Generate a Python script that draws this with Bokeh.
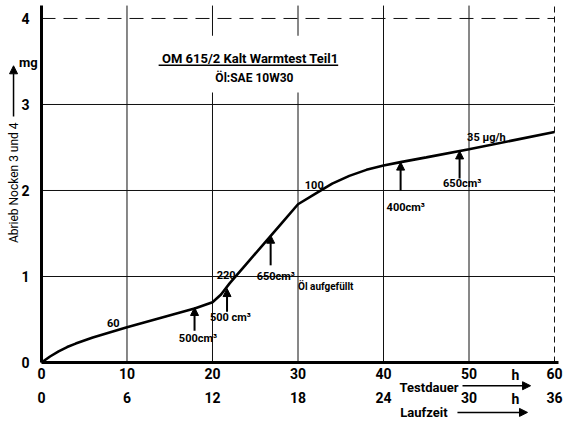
from bokeh.plotting import figure
from bokeh.models import (Range1d, FixedTicker, LinearAxis, Label, Arrow,
                          NormalHead, ColumnDataSource)
from bokeh.embed import file_html
from bokeh.resources import INLINE
import math

# Wear of cams 3 and 4 over test duration (h) -> mg
test_hours = [0, 1, 2, 3, 4, 6, 10, 14, 18, 20, 21, 22, 24, 26, 28, 30, 32, 34,
              36, 38, 40, 42, 45, 50, 55, 60]
wear_mg = [0.0, 0.07, 0.13, 0.18, 0.22, 0.29, 0.41, 0.52, 0.63, 0.70, 0.79, 0.92,
           1.15, 1.38, 1.61, 1.84, 1.96, 2.08, 2.17, 2.24, 2.29, 2.33, 2.385,
           2.48, 2.58, 2.68]

# Axis ticks: test duration (h) and corresponding running time (h)
testdauer_ticks = [0, 10, 20, 30, 40, 50, 60]
laufzeit_labels = [0, 6, 12, 18, 24, 30, 36]
wear_ticks = [0, 1, 2, 3, 4]

# Oil top-ups: hour, arrow start/end (mg), label text, label position
oil_hours = [17.9, 21.7, 26.8, 42.0, 48.9]
oil_from = [0.37, 0.59, 1.13, 2.00, 2.14]
oil_to = [0.64, 0.86, 1.48, 2.33, 2.46]
oil_texts = ["500cm³", "500 cm³", "650cm³", "400cm³", "650cm³"]
oil_label_x = [18.3, 22.1, 27.4, 42.6, 49.2]
oil_label_y = [0.28, 0.52, 1.00, 1.80, 2.08]

# Wear-rate notes along the curve (µg/h)
rate_texts = ["60", "220", "100", "35 µg/h"]
rate_x = [8.4, 21.6, 31.9, 54.3]
rate_y = [0.465, 1.02, 2.06, 2.62]

FONT = "Roboto"
INK = "black"

# The frame fills the whole canvas; axes sit at the origin of the data.
p = figure(width=568, height=423, output_backend="svg", toolbar_location=None,
           x_range=Range1d(-4.795, 61.637), y_range=Range1d(-0.709, 4.209),
           min_border_left=0, min_border_right=0, min_border_top=0,
           min_border_bottom=0, x_axis_type=None, y_axis_type=None)
p.outline_line_color = None
p.background_fill_color = "white"
p.border_fill_color = "white"
p.xgrid.visible = False
p.ygrid.visible = False


def text_label(**kw):
    base = dict(text_font=FONT, text_color=INK, text_font_style="bold",
                text_baseline="middle", text_align="center")
    base.update(kw)
    return Label(**base)


def arrow(x0, y0, x1, y1, width=2, head=8):
    return Arrow(x_start=x0, y_start=y0, x_end=x1, y_end=y1,
                 line_width=width, line_color=INK,
                 end=NormalHead(size=head, fill_color=INK, line_color=INK))


# --- grid lines -----------------------------------------------------------
X_TOP, Y_END = 4.15, 60.0
inner_x = testdauer_ticks[1:-1]
inner_y = wear_ticks[1:-1]
p.segment(x0=inner_x, y0=[0] * len(inner_x), x1=inner_x, y1=[X_TOP] * len(inner_x),
          line_color="#111111", line_width=1)
p.segment(x0=[0] * len(inner_y), y0=inner_y, x1=[Y_END] * len(inner_y), y1=inner_y,
          line_color="#111111", line_width=1)
p.segment(x0=[testdauer_ticks[-1]], y0=[0], x1=[testdauer_ticks[-1]], y1=[X_TOP],
          line_color="#111111", line_width=1, line_dash="6 4")
p.segment(x0=[0], y0=[wear_ticks[-1]], x1=[Y_END], y1=[wear_ticks[-1]],
          line_color="#111111", line_width=1, line_dash="14 8")

# white panel behind the title block
p.quad(left=[13.3], right=[35.6], bottom=[3.14], top=[3.80],
       fill_color="white", line_color=None)

# --- axes -----------------------------------------------------------------
def style_axis(ax, size="14px"):
    ax.major_tick_line_color = None
    ax.minor_tick_line_color = None
    ax.major_label_text_font = FONT
    ax.major_label_text_font_size = size
    ax.major_label_text_font_style = "bold"
    ax.major_label_text_color = INK

xax = LinearAxis(ticker=FixedTicker(ticks=testdauer_ticks), fixed_location=0,
                 bounds=(0, 60.5))
style_axis(xax)
xax.axis_line_width = 3
xax.axis_line_color = INK
xax.major_label_standoff = -1
p.add_layout(xax, "below")

xax2 = LinearAxis(ticker=FixedTicker(ticks=testdauer_ticks), fixed_location=0,
                  bounds=(0, 60.5),
                  major_label_overrides={t: str(l) for t, l in zip(testdauer_ticks, laufzeit_labels)})
style_axis(xax2)
xax2.axis_line_color = None
xax2.major_label_standoff = 23
p.add_layout(xax2, "below")

yax = LinearAxis(ticker=FixedTicker(ticks=wear_ticks), fixed_location=0,
                 bounds=(0, X_TOP))
style_axis(yax)
yax.axis_line_width = 3
yax.axis_line_color = INK
yax.major_label_standoff = 6
p.add_layout(yax, "left")

# --- curve ----------------------------------------------------------------
src = ColumnDataSource(dict(h=test_hours, w=wear_mg))
p.line("h", "w", source=src, line_color=INK, line_width=2.6)

# --- axis titles ----------------------------------------------------------
p.add_layout(text_label(x=-3.27, y=2.09, text="Abrieb Nocken 3 und 4", angle=math.pi / 2,
                        text_font_size="12px", text_font_style="normal"))
p.add_layout(arrow(-3.27, 2.86, -3.27, 3.45, width=1.5, head=8))
p.add_layout(text_label(x=-0.45, y=3.49, text="mg", text_align="right",
                        text_font_size="13px"))

p.add_layout(text_label(x=48.77, y=-0.29, text="Testdauer", text_align="right",
                        text_font_size="13px"))
p.add_layout(arrow(49.24, -0.27, 57.2, -0.27, width=1.5, head=8))
p.add_layout(text_label(x=47.49, y=-0.58, text="Laufzeit", text_align="right",
                        text_font_size="13px"))
p.add_layout(arrow(48.65, -0.58, 56.84, -0.58, width=1.5, head=8))
for y in [-0.14, -0.42]:
    p.add_layout(text_label(x=55.44, y=y, text="h", text_font_size="14px"))

# --- title block ----------------------------------------------------------
p.add_layout(text_label(x=24.6, y=3.535, text="OM 615/2 Kalt Warmtest  Teil1",
                        text_font_size="13px"))
p.segment(x0=[13.7], y0=[3.455], x1=[34.7], y1=[3.455], line_color=INK, line_width=1.5)
p.add_layout(text_label(x=24.9, y=3.31, text="Öl:SAE 10W30", text_font_size="12px"))

# --- notes on the curve ---------------------------------------------------
for t, x, y in zip(rate_texts, rate_x, rate_y):
    p.add_layout(text_label(x=x, y=y, text=t, text_font_size="11px",
                            text_align="right" if "µg" in t else "center"))

p.add_layout(text_label(x=30.0, y=0.88, text="Öl aufgefüllt", text_align="left",
                        text_font_size="10px"))

# --- oil top-up arrows ----------------------------------------------------
for x, y0, y1, t, lx, ly in zip(oil_hours, oil_from, oil_to, oil_texts,
                                oil_label_x, oil_label_y):
    p.add_layout(text_label(x=lx, y=ly, text=t, text_font_size="11px"))
    p.add_layout(arrow(x, y0, x, y1))

open("out.html", "w").write(file_html(p, INLINE))
